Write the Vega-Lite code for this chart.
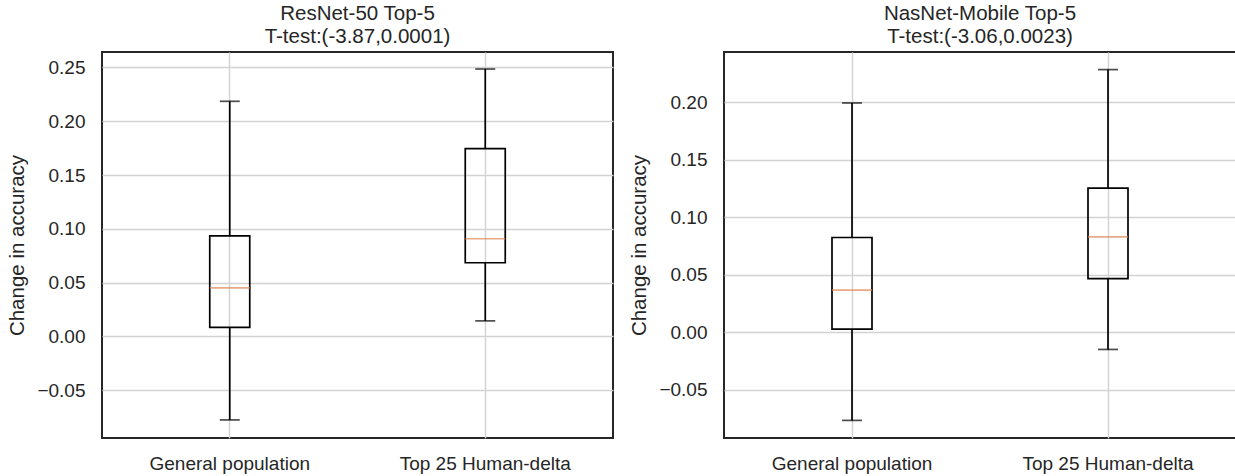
{
  "$schema": "https://vega.github.io/schema/vega-lite/v6.json",
  "padding": {"left": 6, "top": 2, "right": 2, "bottom": 2},
  "spacing": 14,
  "config": {
    "font": "Liberation Sans",
    "view": {"stroke": "#262626", "strokeWidth": 2},
    "axis": {
      "grid": true, "gridColor": "#d2d2d2", "gridWidth": 1.4,
      "domain": false, "ticks": false,
      "labelFontSize": 19, "labelColor": "#262626",
      "titleFontSize": 20.5, "titleFontWeight": "normal", "titleColor": "#262626"
    },
    "title": {"fontSize": 20.5, "fontWeight": "normal", "color": "#262626", "lineHeight": 23, "offset": 5}
  },
  "data": {"values": [
    {"panel": "ResNet", "group": "General population", "lo": -0.0775, "q1": 0.0085, "med": 0.0452, "q3": 0.0935, "hi": 0.2185},
    {"panel": "ResNet", "group": "Top 25 Human-delta", "lo": 0.0145, "q1": 0.0685, "med": 0.0908, "q3": 0.1745, "hi": 0.2485},
    {"panel": "NasNet", "group": "General population", "lo": -0.0765, "q1": 0.0028, "med": 0.0367, "q3": 0.0825, "hi": 0.1995},
    {"panel": "NasNet", "group": "Top 25 Human-delta", "lo": -0.0148, "q1": 0.0468, "med": 0.0830, "q3": 0.1255, "hi": 0.2285}
  ]},
  "hconcat": [
    {
      "width": 511, "height": 386,
      "title": {"text": ["ResNet-50 Top-5", " T-test:(-3.87,0.0001)"]},
      "transform": [{"filter": "datum.panel == 'ResNet'"}],
      "encoding": {
        "x": {"field": "group", "type": "nominal", "title": null,
              "scale": {"domain": ["General population", "Top 25 Human-delta"], "paddingInner": 0, "paddingOuter": 0},
              "axis": {"labelAngle": 0, "labelPadding": 16}}
      },
      "layer": [
        {"mark": {"type": "rule", "color": "black", "strokeWidth": 1.7},
         "encoding": {"y": {"field": "lo", "type": "quantitative", "title": "Change in accuracy",
                            "scale": {"domain": [-0.0943, 0.2643], "nice": false, "zero": false},
                            "axis": {"values": [-0.05, 0, 0.05, 0.1, 0.15, 0.2, 0.25], "format": ".2f", "labelPadding": 17, "titlePadding": 9}},
                      "y2": {"field": "q1"}}},
        {"mark": {"type": "rule", "color": "black", "strokeWidth": 1.7},
         "encoding": {"y": {"field": "q3", "type": "quantitative"}, "y2": {"field": "hi"}}},
        {"mark": {"type": "bar", "size": 40, "fill": "white", "fillOpacity": 0, "stroke": "black", "strokeWidth": 1.7},
         "encoding": {"y": {"field": "q1", "type": "quantitative"}, "y2": {"field": "q3"}}},
        {"mark": {"type": "tick", "size": 20, "thickness": 1.7, "color": "black"},
         "encoding": {"y": {"field": "lo", "type": "quantitative"}}},
        {"mark": {"type": "tick", "size": 20, "thickness": 1.7, "color": "black"},
         "encoding": {"y": {"field": "hi", "type": "quantitative"}}},
        {"mark": {"type": "tick", "size": 40, "thickness": 1.7, "color": "#DD8452"},
         "encoding": {"y": {"field": "med", "type": "quantitative"}}}
      ]
    },
    {
      "width": 512, "height": 386,
      "title": {"text": ["NasNet-Mobile Top-5", " T-test:(-3.06,0.0023)"]},
      "transform": [{"filter": "datum.panel == 'NasNet'"}],
      "encoding": {
        "x": {"field": "group", "type": "nominal", "title": null,
              "scale": {"domain": ["General population", "Top 25 Human-delta"], "paddingInner": 0, "paddingOuter": 0},
              "axis": {"labelAngle": 0, "labelPadding": 16}}
      },
      "layer": [
        {"mark": {"type": "rule", "color": "black", "strokeWidth": 1.7},
         "encoding": {"y": {"field": "lo", "type": "quantitative", "title": "Change in accuracy",
                            "scale": {"domain": [-0.0918, 0.2438], "nice": false, "zero": false},
                            "axis": {"values": [-0.05, 0, 0.05, 0.1, 0.15, 0.2], "format": ".2f", "labelPadding": 17, "titlePadding": 9}},
                      "y2": {"field": "q1"}}},
        {"mark": {"type": "rule", "color": "black", "strokeWidth": 1.7},
         "encoding": {"y": {"field": "q3", "type": "quantitative"}, "y2": {"field": "hi"}}},
        {"mark": {"type": "bar", "size": 40, "fill": "white", "fillOpacity": 0, "stroke": "black", "strokeWidth": 1.7},
         "encoding": {"y": {"field": "q1", "type": "quantitative"}, "y2": {"field": "q3"}}},
        {"mark": {"type": "tick", "size": 20, "thickness": 1.7, "color": "black"},
         "encoding": {"y": {"field": "lo", "type": "quantitative"}}},
        {"mark": {"type": "tick", "size": 20, "thickness": 1.7, "color": "black"},
         "encoding": {"y": {"field": "hi", "type": "quantitative"}}},
        {"mark": {"type": "tick", "size": 40, "thickness": 1.7, "color": "#DD8452"},
         "encoding": {"y": {"field": "med", "type": "quantitative"}}}
      ]
    }
  ]
}
